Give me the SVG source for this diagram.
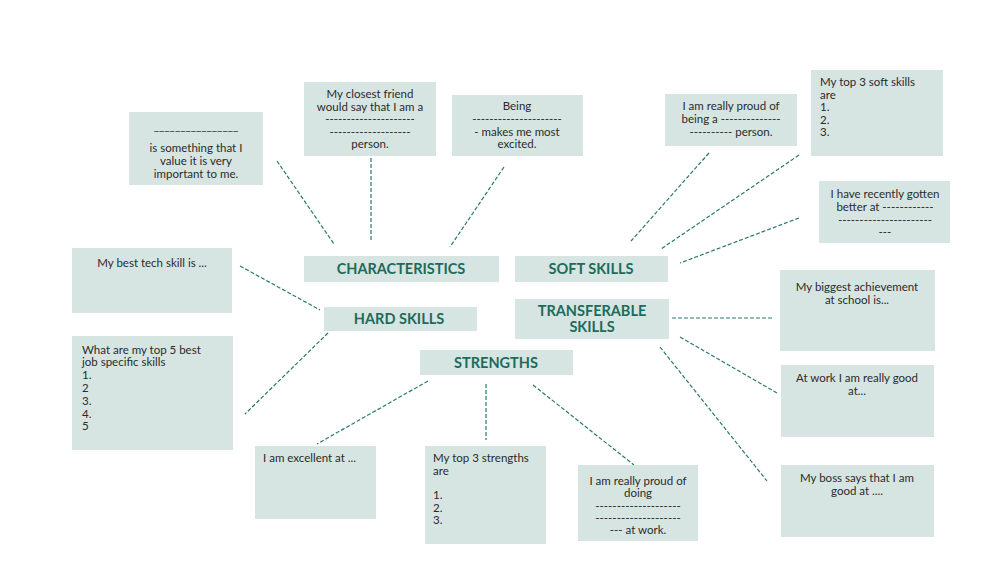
<svg xmlns="http://www.w3.org/2000/svg" width="1000" height="563" viewBox="0 0 1000 563">
<style>
.b{fill:#d6e5e2}
.t{font-family:Lato,"Liberation Sans",sans-serif;font-size:11.5px;fill:#2b2b2b}
.c{text-anchor:middle}
.h{font-family:Lato,"Liberation Sans",sans-serif;font-size:14.5px;font-weight:bold;fill:#1d6b5a;text-anchor:middle}
.l{stroke:#2a7a68;stroke-width:1.2;stroke-dasharray:4 2;fill:none}
</style>
<rect width="1000" height="563" fill="#fff"/>
<g id="connectors">
<line class="l" x1="277" y1="161" x2="334" y2="244"/>
<line class="l" x1="371" y1="158" x2="371" y2="240"/>
<line class="l" x1="504" y1="167" x2="450" y2="247"/>
<line class="l" x1="709" y1="153" x2="631" y2="241"/>
<line class="l" x1="799" y1="155" x2="661" y2="249"/>
<line class="l" x1="799" y1="218" x2="680" y2="263"/>
<line class="l" x1="240" y1="266" x2="320" y2="310"/>
<line class="l" x1="328" y1="333" x2="245" y2="414"/>
<line class="l" x1="672" y1="318" x2="773" y2="318"/>
<line class="l" x1="680" y1="337" x2="777" y2="393"/>
<line class="l" x1="660" y1="347" x2="767" y2="481"/>
<line class="l" x1="428" y1="381" x2="317" y2="444"/>
<line class="l" x1="486" y1="384" x2="486" y2="440"/>
<line class="l" x1="533" y1="385" x2="634" y2="465"/>
</g>
<g id="value"><rect class="b" x="129" y="112" width="134" height="73"/>
<text class="t c" x="196" y="130">________________</text>
<text class="t c" x="196" y="152">is something that I</text>
<text class="t c" x="196" y="165">value it is very</text>
<text class="t c" x="196" y="178">important to me.</text></g>
<g id="friend"><rect class="b" x="304" y="82" width="132" height="74"/>
<text class="t c" x="370" y="98">My closest friend</text>
<text class="t c" x="370" y="111">would say that I am a</text>
<text class="t c" x="370" y="123">---------------------</text>
<text class="t c" x="370" y="136">-------------------</text>
<text class="t c" x="370" y="148">person.</text></g>
<g id="being"><rect class="b" x="452" y="95" width="131" height="61"/>
<text class="t c" x="517" y="110">Being</text>
<text class="t c" x="517" y="123">---------------------</text>
<text class="t c" x="517" y="136">- makes me most</text>
<text class="t c" x="517" y="148">excited.</text></g>
<g id="proudbeing"><rect class="b" x="665" y="94" width="132" height="52"/>
<text class="t c" x="731" y="110">I am really proud of</text>
<text class="t c" x="731" y="123">being a --------------</text>
<text class="t c" x="731" y="136">---------- person.</text></g>
<g id="topsoft"><rect class="b" x="811" y="70" width="132" height="86"/>
<text class="t" x="820" y="86">My top 3 soft skills</text>
<text class="t" x="820" y="99">are</text>
<text class="t" x="820" y="111">1.</text>
<text class="t" x="820" y="124">2.</text>
<text class="t" x="820" y="136">3.</text></g>
<g id="recently"><rect class="b" x="819" y="181" width="131" height="62"/>
<text class="t c" x="885" y="198">I have recently gotten</text>
<text class="t c" x="885" y="211">better at ------------</text>
<text class="t c" x="885" y="224">----------------------</text>
<text class="t c" x="885" y="236">---</text></g>
<g id="characteristics"><rect class="b" x="304" y="256" width="195" height="26"/><text class="h" x="401" y="274">CHARACTERISTICS</text></g>
<g id="softskills"><rect class="b" x="515" y="256" width="153" height="26"/><text class="h" x="591" y="274">SOFT SKILLS</text></g>
<g id="hardskills"><rect class="b" x="324" y="307" width="153" height="24"/><text class="h" x="399" y="324">HARD SKILLS</text></g>
<g id="transferable"><rect class="b" x="515" y="299" width="154" height="40"/><text class="h" x="592" y="316">TRANSFERABLE</text><text class="h" x="592" y="332">SKILLS</text></g>
<g id="strengths"><rect class="b" x="420" y="350" width="153" height="25"/><text class="h" x="496" y="368">STRENGTHS</text></g>
<g id="tech"><rect class="b" x="72" y="248" width="160" height="65"/>
<text class="t c" x="152" y="267">My best tech skill is ...</text></g>
<g id="top5"><rect class="b" x="72" y="336" width="161" height="114"/>
<text class="t" x="82" y="354">What are my top 5 best</text>
<text class="t" x="82" y="366">job specific skills</text>
<text class="t" x="82" y="379">1.</text>
<text class="t" x="82" y="392">2</text>
<text class="t" x="82" y="405">3.</text>
<text class="t" x="82" y="418">4.</text>
<text class="t" x="82" y="430">5</text></g>
<g id="achievement"><rect class="b" x="780" y="270" width="155" height="81"/>
<text class="t c" x="857" y="291">My biggest achievement</text>
<text class="t c" x="857" y="304">at school is...</text></g>
<g id="atwork"><rect class="b" x="781" y="365" width="153" height="72"/>
<text class="t c" x="857" y="382">At work I am really good</text>
<text class="t c" x="857" y="395">at...</text></g>
<g id="boss"><rect class="b" x="781" y="465" width="153" height="72"/>
<text class="t c" x="857" y="482">My boss says that I am</text>
<text class="t c" x="857" y="495">good at ....</text></g>
<g id="excellent"><rect class="b" x="255" y="446" width="121" height="73"/>
<text class="t" x="263" y="462">I am excellent at ...</text></g>
<g id="top3"><rect class="b" x="425" y="446" width="121" height="98"/>
<text class="t" x="433" y="462">My top 3 strengths</text>
<text class="t" x="433" y="475">are</text>
<text class="t" x="433" y="499">1.</text>
<text class="t" x="433" y="512">2.</text>
<text class="t" x="433" y="524">3.</text></g>
<g id="proudwork"><rect class="b" x="578" y="465" width="120" height="76"/>
<text class="t c" x="638" y="485">I am really proud of</text>
<text class="t c" x="638" y="497">doing</text>
<text class="t c" x="638" y="510">--------------------</text>
<text class="t c" x="638" y="522">--------------------</text>
<text class="t c" x="638" y="534">--- at work.</text></g>
</svg>
